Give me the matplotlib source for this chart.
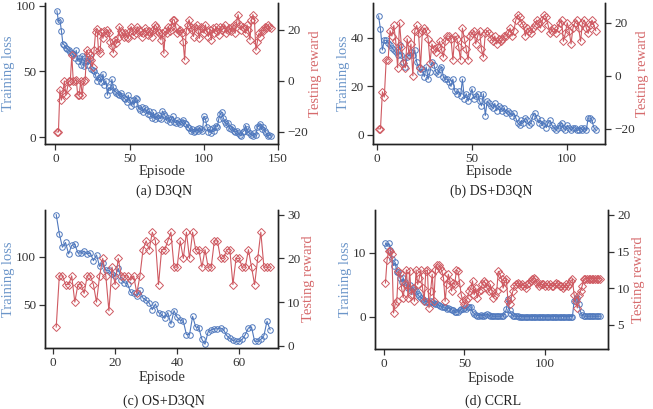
import numpy as np
import matplotlib
matplotlib.use("Agg")
from matplotlib import pyplot as plt

plt.rcParams['font.family'] = ['Liberation Serif', 'DejaVu Serif']
plt.rcParams['font.size'] = 9

# (a) D3QN
loss_a = [96, 88, 89, 81, 71, 70, 68, 67, 66, 65, 64, 63, 60, 66, 58, 60, 55, 62, 54, 60,
          58, 55, 60, 52, 51, 50, 47, 43, 45, 46, 42, 48, 40, 43, 32, 38, 36, 44, 38, 35,
          34, 33, 32, 34, 31, 30, 29, 27, 32, 28, 24, 28, 25, 30, 29, 22, 21, 23, 19, 22,
          21, 18, 20, 17, 15, 19, 14, 16, 17, 15, 14, 20, 18, 16, 13, 15, 12, 14, 16, 12,
          11, 13, 12, 10, 12, 13, 11, 10, 8, 7, 5, 6, 4, 5, 6, 5, 7, 6, 5, 16,
          14, 8, 4, 6, 3, 7, 5, 9, 8, 14, 18, 19, 15, 12, 10, 11, 7, 6, 8, 5,
          4, 5, 3, 2, 1, 4, 5, 9, 6, 4, 3, 2, 1, 3, 2, 8, 9, 10, 6, 8,
          5, 3, 1, 2, 1]
reward_a = [-20, -20, -3.5, -7.5, -4.8, 0, -5.5, -2.9, 0, 0, 10, 0, 0, 0.4, -5.5, -5.5, 0, -5.5, 0, 0.4,
            12, 10.9, 10.2, 8.2, 5.6, 12, 19, 20.5, 12, 11, 19, 16.7, 19.4, 18.7, 20, 18.7, 15.4, 13.5, 11, 16.1,
            14.7, 16.7, 21.3, 19.4, 18.7, 17.4, 18.7, 17.4, 16.7, 19.4, 21.3, 19.4, 18, 18.7, 21.3, 20, 19.4, 17.4, 18.7, 20.6,
            19.4, 18, 19.4, 18.7, 17.4, 20, 22, 21.3, 19.4, 18.7, 16.1, 18.7, 10.8, 19.4, 18.7, 21.3, 19.4, 21.3, 24, 24,
            21.3, 18.7, 19.4, 20, 18.7, 15.4, 8.2, 19.4, 22, 24, 21.3, 20, 17.4, 21.3, 22, 20, 16.7, 21.3, 20.6, 18.7,
            22, 19.4, 17.4, 20, 16.1, 20.6, 18.7, 21.3, 19.4, 18, 21.3, 20, 20.6, 22, 18.7, 20, 20.6, 19.4, 21.3, 22,
            18.7, 23, 26, 22, 20, 21.3, 20.6, 18.7, 22, 20, 16.1, 24, 26, 24, 12, 15.4, 18.7, 17.4, 20, 19.4,
            21.3, 20.6, 22, 21.3, 20.6]

# (b) DS+D3QN
loss_b = [49, 43.5, 35, 39, 39, 38, 37, 36, 35, 34, 33, 37, 33, 30, 28, 32, 33, 34, 33, 35,
          30, 28, 26, 27, 24, 28, 23, 26, 30, 29, 26, 25, 27, 28, 24, 23, 23, 22, 20, 23,
          18, 17, 18, 16, 23, 15, 17, 14, 16, 19, 15, 16, 17, 14, 12, 17, 8, 14, 13, 12,
          11, 13, 10, 12, 11, 10, 11, 9, 10, 9, 8, 9, 7, 5, 4, 6, 5, 7, 6, 4,
          5, 8, 9, 7, 5, 6, 4, 5, 3, 5, 6, 4, 3, 2, 3, 4, 5, 3, 2, 4,
          3, 2, 3, 3, 2, 2, 3, 2, 3, 2, 7, 7, 6, 3, 2]
reward_b = [-20, -20, -6, -8, 6, 6, 17, 15, 19, 13, 3, 20, 11, 5, 3, 14, 8, 12, 0, 17,
            19, 16, 3, 17, 18, 17, 14, 5, 12, 10, 9, 11, 13, 10, 7, 13, 15, 15, 14, 6,
            15, 14, 11, 6, 18, 14, 10, 6, 15, 16, 17, 12, 15, 17, 10, 7, 16, 17, 16, 14,
            13, 15, 12, 14, 13, 14, 15, 15, 16, 18, 15, 17, 21, 23, 22, 20, 19, 15, 18, 17,
            16, 18, 19, 21, 20, 18, 21, 23, 22, 19, 16, 17, 18, 16, 18, 20, 21, 13, 16, 20,
            17, 12, 18, 20, 21, 18, 13, 20, 21, 18, 16, 19, 21, 19, 17]

# (c) OS+D3QN
loss_c = [144, 124, 110, 115, 103, 112, 113, 104, 104, 106, 103, 104, 96, 102, 90, 94, 86, 86, 82, 80,
          88, 76, 73, 72, 63, 62, 59, 65, 57, 55, 52, 45, 51, 42, 40, 36, 42, 30, 44, 37,
          34, 33, 19, 19, 38, 27, 26, 14, 9, 22, 24, 25, 25, 26, 24, 18, 15, 13, 12, 12,
          14, 19, 26, 27, 12, 12, 14, 18, 33, 24]
reward_c = [4.3, 16, 16, 14, 14, 16, 10, 14, 14, 12, 16, 16, 14, 10, 16, 20, 16, 8, 18, 14,
            20, 16, 16, 16, 15, 16, 12, 16, 22, 24, 22, 26, 24, 14, 22, 22, 24, 26, 18, 18,
            24, 20, 26, 20, 26, 22, 22, 18, 22, 18, 18, 24, 24, 20, 20, 22, 22, 14, 20, 20,
            18, 18, 22, 18, 14, 20, 26, 18, 18, 18]

# (d) CCRL
loss_d = [11.5, 11, 11.5, 10.5, 9, 8, 8.5, 7, 7, 6, 5.5, 6, 5.5, 5, 4.5, 5, 4, 4.5, 4.2, 4,
          3.5, 3.2, 3, 2.8, 2.5, 2.3, 2.5, 2.2, 2.5, 2.3, 2.2, 2, 2, 1.8, 1.7, 1.6, 1.5, 1.5, 1.3, 1.4,
          1.2, 1.1, 1, 0.8, 0.7, 0.8, 1, 1.2, 1.3, 1.4, 1.2, 1.5, 1.6, 1.5, 0.8, 0.5, 0.3, 0.2, 0.2, 0.3,
          0.2, 0.2, 0.3, 0.4, 0.3, 0.2, 0.1, 0.1, 0.1, 0.1, 0.1, 0.1, 0.1, 0.2, 0.5, 1.2, 2.8, 1.0, 0.5, 0.2,
          0.1, 0.1, 0.1, 0.05, 0.05, 0.05, 0.05, 0.05, 0.05, 0.05, 0.05, 0.05, 0.05, 0.05, 0.05, 0.05, 0.05, 0.05, 0.05, 0.05,
          0.05, 0.05, 0.05, 0.05, 0.05, 0.05, 0.05, 0.05, 0.05, 0.05, 0.05, 0.05, 0.05, 0.05, 0.05, 0.05, 0.05, 2.5, 2.8, 3,
          2, 0.8, 0.3, 0.1, 0.1, 0.1, 0.1, 0.1, 0.1, 0.1, 0.1, 0.1, 0.1, 0.1]
reward_d = [10.7, 13.9, 15.1, 15.1, 14.6, 6.6, 7.8, 8.2, 12.3, 12.1, 10, 8.7, 10.5, 12.5, 8.7, 12.3, 9.1, 10, 8.2, 12.5,
            10.5, 11.4, 12.5, 10, 8.2, 12.3, 12.5, 7.3, 9.6, 11.9, 8.2, 12.5, 13.2, 13.2, 12.8, 12.3, 11.4, 8.2, 10.5, 11.9,
            11, 9.6, 10.7, 10.5, 12.5, 12.3, 10.7, 9.1, 8.2, 7.8, 8.4, 8.7, 9.6, 10, 11, 9.1, 10, 8.7, 9.6, 9.8,
            10.5, 11, 10.7, 10, 9.6, 10.5, 9.6, 8.7, 9.1, 9.6, 12.3, 11.9, 11.2, 10, 11, 11.2, 8.2, 7.8, 8.7, 9.6,
            10.3, 10.5, 10.7, 10.5, 10.3, 10.5, 10.3, 10, 10.5, 10.7, 11, 11.2, 11.4, 11.2, 10.7, 10.3, 10.5, 10.5, 10.5, 10.3,
            10.5, 10.3, 10.5, 10.3, 10.3, 10.5, 10.7, 10.5, 10.3, 10.3, 10, 10.3, 10.5, 10.3, 10.5, 11, 11.2, 9.1, 8.2, 7.3,
            9.1, 9.6, 10.3, 11.2, 11.3, 11.3, 11.3, 11.3, 11.3, 11.3, 11.3, 11.3, 11.3, 11.3]

panels = [
    (loss_a, reward_a, "(a) D3QN", [0, 50, 100, 150], (-7, 150), [0, 50, 100], (-5, 102), [-20, 0, 20], (-24.7, 30.6)),
    (loss_b, reward_b, "(b) DS+D3QN", [0, 50, 100], (-2, 120), [0, 20, 40], (-3.7, 54.4), [-20, 0, 20], (-25.7, 27.5)),
    (loss_c, reward_c, "(c) OS+D3QN", [0, 20, 40, 60], (-2.6, 72.6), [50, 100], (5, 149), [0, 10, 20, 30], (-0.5, 31.1)),
    (loss_d, reward_d, "(d) CCRL", [0, 50, 100], (-5.6, 139), [0, 10], (-5, 16.7), [5, 10, 15, 20], (1.7, 20.7)),
]
# axes boxes [left, bottom, width, height] and caption heights, figure fractions
boxes = [
    [0.069, 0.648, 0.357, 0.345],
    [0.571, 0.648, 0.356, 0.345],
    [0.069, 0.149, 0.357, 0.338],
    [0.574, 0.147, 0.357, 0.340],
]
cap_y = [0.533, 0.533, 0.019, 0.019]
xpad = [0, 0, 1.5, 1.5]

blue = '#4f78bd'
red = '#cf5a62'
blue_lab = '#6b95c9'
red_lab = '#d66a6c'
tick_c = '#333333'

fig = plt.figure(figsize=(6.53, 4.09), dpi=100)
for (loss, rew, cap, xt, xl, lt, ll, rt, rl), box, cy, xp in zip(panels, boxes, cap_y, xpad):
    ax = fig.add_axes(box)
    ax2 = ax.twinx()
    ax.plot(np.arange(1, len(loss) + 1), loss, color=blue, lw=0.8, marker='o', ms=4,
            mfc='none', mec=blue, mew=0.7)
    ax2.plot(np.arange(1, len(rew) + 1), rew, color=red, lw=0.8, marker='D', ms=3.6,
             mfc='none', mec=red, mew=0.7)
    ax.set_xlim(xl)
    ax.set_xticks(xt)
    ax.set_ylim(ll)
    ax.set_yticks(lt)
    ax2.set_ylim(rl)
    ax2.set_yticks(rt)
    for a in (ax, ax2):
        a.spines['top'].set_visible(False)
        for s in a.spines.values():
            s.set_color('#222222')
            s.set_linewidth(1.0)
        a.tick_params(direction='out', length=4, width=0.9, colors=tick_c, labelsize=9.5, pad=2.5)
    ax.set_ylabel("Training loss", color=blue_lab, fontsize=10.5, labelpad=0.5)
    ax2.set_ylabel("Testing reward", color=red_lab, fontsize=10.5, labelpad=1)
    ax.set_xlabel("Episode", color=tick_c, fontsize=10.5, labelpad=xp)
    fig.text(box[0] + box[2] / 2 + 0.003, cy, cap, ha='center', va='center',
             fontsize=10, color='#222222')

fig.savefig("out.png", dpi=100)
